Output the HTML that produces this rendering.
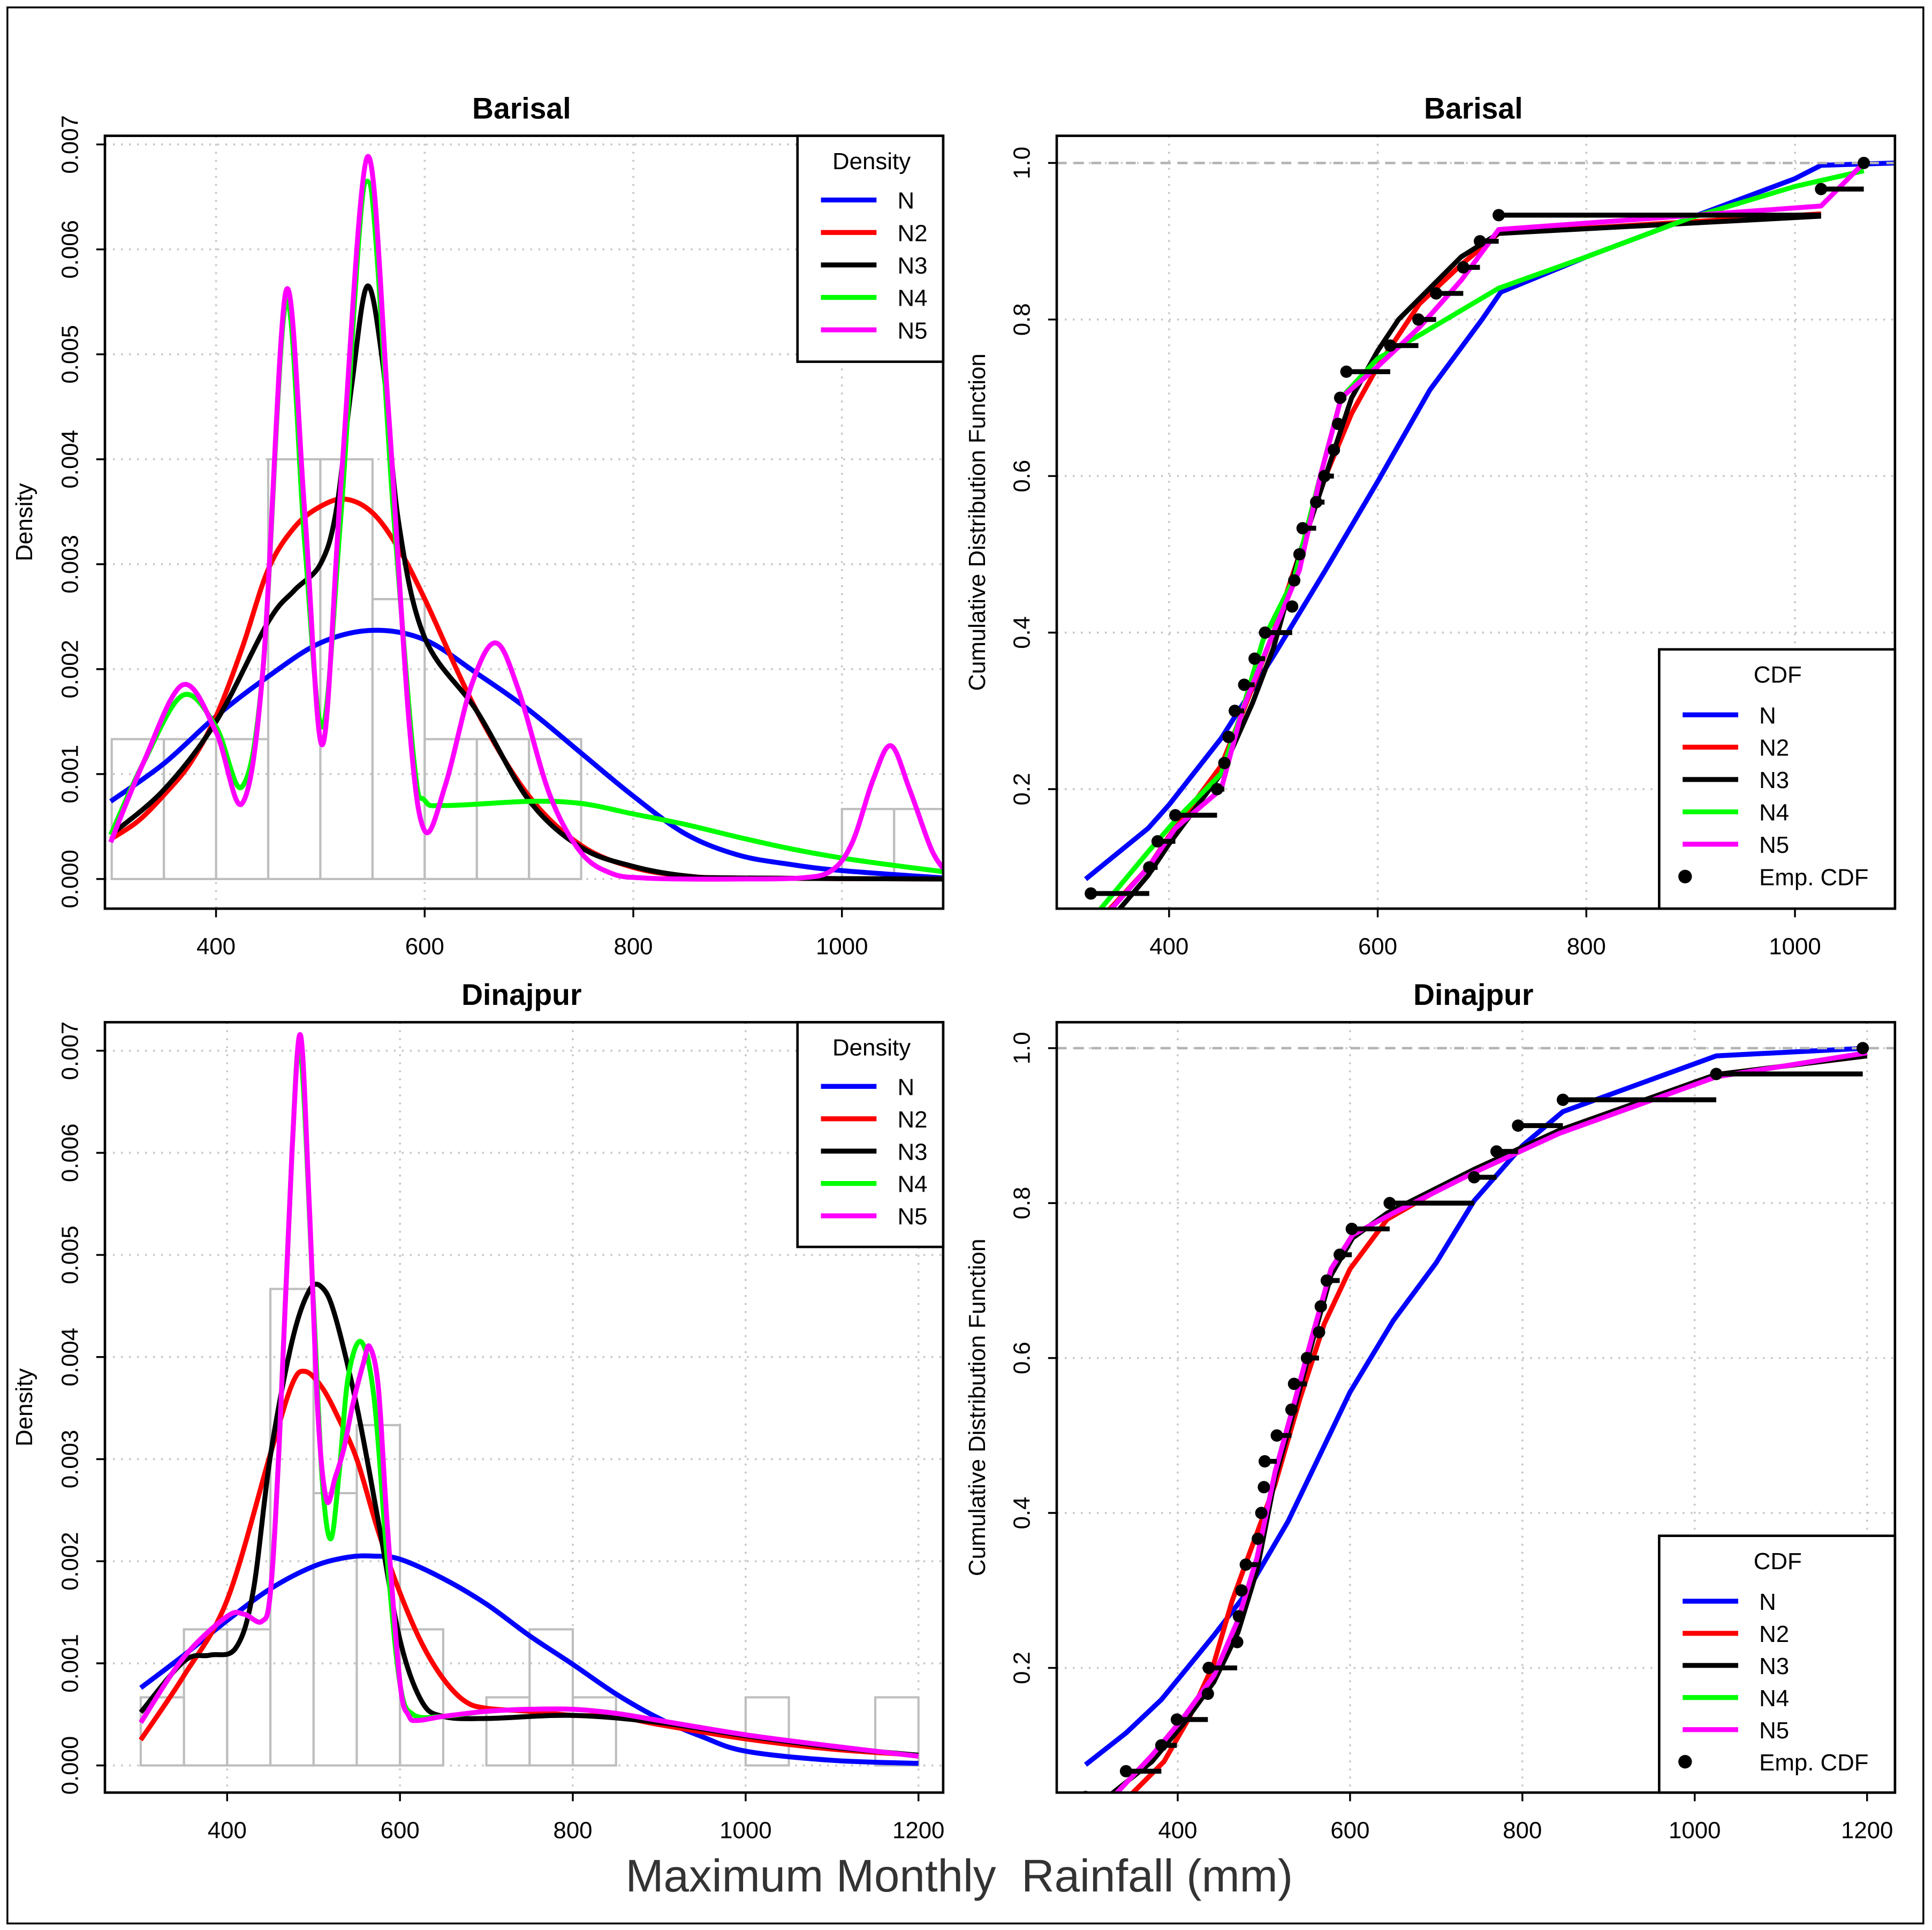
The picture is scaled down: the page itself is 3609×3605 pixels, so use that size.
<!DOCTYPE html>
<html><head><meta charset="utf-8"><style>
html,body{margin:0;padding:0;background:#fff;}
svg{display:block;font-family:"Liberation Sans",sans-serif;}
</style></head><body>
<svg id="fig" width="3609" height="3605" viewBox="0 0 1565 1563.3" preserveAspectRatio="none" xmlns="http://www.w3.org/2000/svg">
<rect x="0" y="0" width="1565" height="1564" fill="#fff"/>
<rect x="6" y="6" width="1552" height="1552" fill="none" stroke="#000" stroke-width="1.5"/>
<text x="777" y="1532" font-size="37" fill="#333" text-anchor="middle">Maximum Monthly&#160; Rainfall (mm)</text>
</svg>
<script>
// ---------- Barisal density data ----------
const barHistBreaks=[300,350,400,450,500,550,600,650,700,750,800,850,900,950,1000,1050,1100];
const barHistDens=[1.333,1.333,1.333,4.0,4.0,2.667,1.333,1.333,1.333,0,0,0,0,0,0.667,0.667];
const barNx=[299,350,400,450,500,550,600,650,700,750,800,850,900,950,1000,1097];
const barNy=[0.74,1.1,1.55,1.93,2.25,2.37,2.28,1.96,1.61,1.2,0.79,0.43,0.23,0.14,0.08,0.01];
const barN2x=[299,325,350,375,400,425,450,475,500,524,550,575,600,650,700,750,800,850,900,1097];
const barN2y=[0.38,0.55,0.8,1.1,1.55,2.2,2.95,3.35,3.55,3.62,3.49,3.15,2.67,1.6,0.79,0.32,0.11,0.03,0.01,0];
const barN3x=[299,350,400,450,475,500,515,530,545,560,575,600,650,700,750,800,850,900,1097];
const barN3y=[0.42,0.85,1.5,2.45,2.75,3.0,3.5,4.7,5.65,4.9,3.4,2.3,1.6,0.75,0.3,0.12,0.03,0.01,0];
const barN4x=[299,330,368,400,425,445,467,485,502,520,545,570,590,600,620,700,750,800,850,900,950,1000,1050,1097];
const barN4y=[0.42,1.1,1.75,1.45,0.88,2.0,5.5,3.2,1.45,3.5,6.65,3.5,1.1,0.75,0.7,0.74,0.72,0.62,0.52,0.4,0.29,0.2,0.13,0.07];
const barN5x=[299,330,368,400,425,445,467,485,502,520,545,565,585,600,620,645,668,690,720,750,780,810,850,900,960,990,1010,1030,1047,1065,1085,1097];
const barN5y=[0.35,1.1,1.85,1.4,0.72,2.0,5.6,3.5,1.28,3.8,6.88,4.5,1.5,0.46,0.9,1.85,2.25,1.8,0.8,0.25,0.05,0.01,0,0,0.01,0.08,0.35,0.95,1.27,0.85,0.3,0.1];
// ---------- Dinajpur density data ----------
const dinHistBreaks=[300,350,400,450,500,550,600,650,700,750,800,850,900,950,1000,1050,1100,1150,1200];
const dinHistDens=[0.667,1.333,1.333,4.667,2.667,3.333,1.333,0,0.667,1.333,0.667,0,0,0,0.667,0,0,0.667];
const dinNx=[300,350,400,450,500,540,570,600,650,700,750,800,850,900,950,1000,1100,1200];
const dinNy=[0.76,1.08,1.42,1.73,1.95,2.04,2.05,2.02,1.83,1.58,1.27,0.99,0.7,0.46,0.28,0.14,0.05,0.02];
const dinN2x=[300,350,400,450,475,490,510,530,550,575,600,625,650,675,700,750,800,850,900,1000,1100,1200];
const dinN2y=[0.25,0.88,1.62,3.05,3.73,3.86,3.7,3.38,3.0,2.29,1.69,1.2,0.85,0.63,0.56,0.53,0.49,0.48,0.4,0.26,0.16,0.1];
const dinN3x=[300,350,380,410,430,450,475,495,510,525,550,575,600,625,650,700,800,900,1000,1100,1200];
const dinN3y=[0.52,1.02,1.08,1.15,1.7,3.03,4.15,4.65,4.68,4.4,3.52,2.39,1.23,0.63,0.48,0.46,0.49,0.42,0.29,0.18,0.1];
const dinN4x=[300,350,400,420,440,450,460,475,485,500,510,520,530,540,555,570,585,600,615,650,700,750,800,850,900,1000,1100,1200];
const dinN4y=[0.42,1.06,1.46,1.48,1.41,1.69,3.1,6.0,7.0,4.5,2.8,2.22,2.9,3.8,4.15,3.6,2.04,0.8,0.5,0.48,0.53,0.55,0.55,0.51,0.44,0.3,0.19,0.09];
const dinN5x=[300,350,400,420,440,450,460,475,485,495,505,515,525,535,545,558,565,575,585,600,610,620,650,700,750,800,850,900,1000,1100,1200];
const dinN5y=[0.42,1.06,1.46,1.48,1.41,1.69,3.1,6.0,7.15,5.5,3.45,2.6,2.82,3.1,3.52,3.95,4.1,3.7,2.39,0.81,0.49,0.44,0.48,0.53,0.55,0.55,0.51,0.44,0.3,0.19,0.09];
// ---------- Barisal CDF data ----------
const barEmp=[300,325,381,389,406,446,453,457,463,472,482,492,518,520,525,528,541,549,558,562,564,570,612,639,656,682,698,716,1025,1066];
const barCNx=[320,380,400,450,500,550,600,650,700,718,800,900,1000,1025,1097];
const barCNy=[0.085,0.15,0.18,0.265,0.37,0.48,0.593,0.71,0.8,0.835,0.88,0.93,0.98,0.997,1.0];
const barCN2x=[335,380,400,450,480,500,525,550,575,600,640,680,716,1025];
const barCN2y=[0.035,0.1,0.14,0.23,0.33,0.4,0.5,0.6,0.68,0.74,0.82,0.87,0.91,0.935];
const barCN3x=[345,380,400,450,480,500,525,550,575,600,620,650,680,716,1025];
const barCN3y=[0.035,0.09,0.13,0.22,0.31,0.38,0.5,0.6,0.7,0.76,0.8,0.84,0.88,0.91,0.932];
const barCN4x=[330,380,406,450,470,490,520,545,565,600,640,716,800,900,1000,1066];
const barCN4y=[0.04,0.12,0.16,0.22,0.3,0.39,0.47,0.6,0.7,0.75,0.78,0.84,0.88,0.93,0.97,0.99];
const barCN5x=[340,380,406,450,470,500,525,545,565,600,640,680,716,1025,1066];
const barCN5y=[0.04,0.1,0.15,0.2,0.3,0.4,0.48,0.6,0.7,0.74,0.79,0.85,0.915,0.945,1.0];
// ---------- Dinajpur CDF data ----------
const dinEmp=[293,340,381,399,435,436,469,471,474,479,493,497,500,501,515,532,535,550,564,566,573,588,602,646,744,770,795,847,1025,1195];
const dinCNx=[293,340,381,442,478,528,600,650,700,744,800,847,1025,1200];
const dinCNy=[0.075,0.116,0.159,0.242,0.294,0.389,0.556,0.648,0.723,0.803,0.874,0.918,0.99,1.0];
const dinCN2x=[340,384,413,442,463,484,513,542,570,600,643,743,843,1025,1200];
const dinCN2y=[0.03,0.079,0.135,0.206,0.286,0.35,0.437,0.548,0.644,0.715,0.779,0.843,0.894,0.966,0.99];
const dinCN3x=[315,370,406,442,470,492,513,535,556,578,603,643,743,843,1025,1200];
const dinCN3y=[0.03,0.079,0.127,0.182,0.246,0.326,0.445,0.532,0.62,0.707,0.755,0.787,0.843,0.894,0.966,0.99];
const dinCN4x=[322,370,406,442,470,492,513,535,556,578,603,650,743,843,1025,1200];
const dinCN4y=[0.03,0.087,0.135,0.19,0.262,0.342,0.453,0.541,0.628,0.715,0.759,0.787,0.839,0.89,0.963,0.994];
const dinCN5x=[322,370,406,442,470,492,513,535,556,578,603,650,743,843,1025,1200];
const dinCN5y=[0.03,0.087,0.135,0.19,0.262,0.342,0.453,0.541,0.628,0.715,0.759,0.787,0.839,0.89,0.963,0.994];

const NS="http://www.w3.org/2000/svg";
const svg=document.getElementById('fig');
function mk(tag,attrs,parent){const e=document.createElementNS(NS,tag);for(const k in attrs)e.setAttribute(k,attrs[k]);(parent||svg).appendChild(e);return e;}
const COLORS={N:'#0000ff',N2:'#ff0000',N3:'#000000',N4:'#00ff00',N5:'#ff00ff'};

function smoothPath(xs,ys,X,Y){
  const p=xs.map((v,i)=>[X(v),Y(ys[i])]);
  let d='M'+p[0][0].toFixed(2)+','+p[0][1].toFixed(2);
  for(let i=0;i<p.length-1;i++){
    const p0=p[Math.max(0,i-1)],p1=p[i],p2=p[i+1],p3=p[Math.min(p.length-1,i+2)];
    const c1=[p1[0]+(p2[0]-p0[0])/6,p1[1]+(p2[1]-p0[1])/6];
    const c2=[p2[0]-(p3[0]-p1[0])/6,p2[1]-(p3[1]-p1[1])/6];
    d+=' C'+c1[0].toFixed(2)+','+c1[1].toFixed(2)+' '+c2[0].toFixed(2)+','+c2[1].toFixed(2)+' '+p2[0].toFixed(2)+','+p2[1].toFixed(2);
  }
  return d;
}
function linePath(xs,ys,X,Y){return xs.map((v,i)=>(i?'L':'M')+X(v).toFixed(2)+','+Y(ys[i]).toFixed(2)).join(' ');}

function panel(cfg){
  const g=mk('g',{});
  
  
  const b=cfg.box;
  const cid='clip-'+cfg.name;
  const cp=mk('clipPath',{id:cid},g);mk('rect',{x:b.x,y:b.y,width:b.w,height:b.h},cp);
  const grid=mk('g',{stroke:'#c8c8c8','stroke-width':1.6,'stroke-dasharray':'1.5,5'},g);
  
  
  cfg.xticks.forEach(v=>mk('line',{x1:cfg.X(v),x2:cfg.X(v),y1:b.y,y2:b.y+b.h},grid));
  cfg.yticks.forEach(v=>mk('line',{x1:b.x,x2:b.x+b.w,y1:cfg.Y(v),y2:cfg.Y(v)},grid));
  const plot=mk('g',{'clip-path':'url(#'+cid+')'},g);
  cfg.draw(plot);
  const box=mk('rect',{x:b.x,y:b.y,width:b.w,height:b.h,fill:'none',stroke:'#000','stroke-width':2},g);
  
  
  cfg.xticks.forEach(v=>{
    mk('line',{x1:cfg.X(v),x2:cfg.X(v),y1:b.y+b.h,y2:b.y+b.h+7,stroke:'#000','stroke-width':1.5},g);
    const t=mk('text',{x:cfg.X(v),y:b.y+b.h+37,'font-size':19,'text-anchor':'middle'},g);
    
    
    t.textContent=String(v);
  });
  cfg.yticks.forEach((v,i)=>{
    const y=cfg.Y(v);
    mk('line',{x1:b.x-7,x2:b.x,y1:y,y2:y,stroke:'#000','stroke-width':1.5},g);
    const t=mk('text',{x:0,y:0,'font-size':19,'text-anchor':'middle',transform:'translate('+(b.x-22)+','+y+') rotate(-90)'},g);
    
    
    t.textContent=cfg.ylabels[i];
  });
  const tt=mk('text',{x:b.x+b.w/2-2,y:b.y-14,'font-size':24,'font-weight':'bold','text-anchor':'middle'},g);
  
  
  tt.textContent=cfg.title;
  const yl=mk('text',{x:0,y:0,'font-size':19,'text-anchor':'middle',transform:'translate('+cfg.ylabX+','+(b.y+b.h/2)+') rotate(-90)'},g);
  
  
  yl.textContent=cfg.ylab;
  const L=cfg.legend;
  const lg=mk('g',{},g);
  
  
  mk('rect',{x:L.x,y:L.y,width:L.w,height:L.h,fill:'#fff',stroke:'#000','stroke-width':2},lg);
  const lt=mk('text',{x:L.tx,y:L.y+27,'font-size':19,'text-anchor':'middle'},lg);
  lt.textContent=L.title;
  L.items.forEach((it,i)=>{
    const y=L.y0+i*L.dy;
    const e=mk('g',{},lg);
    
    
    if(it==='Emp. CDF'){mk('circle',{cx:L.lx+2,cy:y,r:5.5,fill:'#000'},e);}
    else mk('line',{x1:L.lx,x2:L.lx+45,y1:y,y2:y,stroke:COLORS[it],'stroke-width':4},e);
    const t=mk('text',{x:L.lx+62,y:y+7,'font-size':19},e);
    t.textContent=it;
  });
}

function drawHist(plot,breaks,dens,X,Y){
  const hg=mk('g',{fill:'none',stroke:'#bebebe','stroke-width':1.8},plot);
  
  
  dens.forEach((d,i)=>{
    const r=mk('rect',{x:X(breaks[i]),y:Y(d),width:X(breaks[i+1])-X(breaks[i]),height:Y(0)-Y(d)},hg);
    
    
  });
}
function drawCurve(plot,xs,ys,X,Y,key,smooth){
  const p=mk('path',{d:smooth?smoothPath(xs,ys,X,Y):linePath(xs,ys,X,Y),fill:'none',stroke:COLORS[key],'stroke-width':4,'stroke-linejoin':'round'},plot);
  
  
}
function drawEmp(plot,emp,X,Y,b){
  const n=emp.length;
  mk('line',{x1:b.x,x2:b.x+b.w,y1:Y(1),y2:Y(1),stroke:'#b4b4b4','stroke-width':2,'stroke-dasharray':'8,6'},plot);
  const eg=mk('g',{},plot);
  
  
  emp.forEach((v,i)=>{
    const p=(i+1)/n;
    if(i<n-1) mk('line',{x1:X(v),x2:X(emp[i+1]),y1:Y(p),y2:Y(p),stroke:'#000','stroke-width':4},eg);
    const c=mk('circle',{cx:X(v),cy:Y(p),r:5,fill:'#000'},eg);
    
    
  });
}
const keys=['N','N2','N3','N4','N5'];

(function(){
  const X=v=>175+(v-400)*0.845, Y=d=>712-d*85;
  panel({name:'barisal-density',box:{x:85,y:110,w:679,h:626},X,Y,xticks:[400,600,800,1000],
    yticks:[0,1,2,3,4,5,6,7],ylabels:['0.000','0.001','0.002','0.003','0.004','0.005','0.006','0.007'],
    title:'Barisal',ylab:'Density',ylabX:26,
    legend:{x:646,y:110,w:118,h:183,tx:706,title:'Density',y0:162,dy:26.3,lx:665,items:keys},
    draw:pl=>{drawHist(pl,barHistBreaks,barHistDens,X,Y);
      [[barNx,barNy],[barN2x,barN2y],[barN3x,barN3y],[barN4x,barN4y],[barN5x,barN5y]].forEach((s,i)=>drawCurve(pl,s[0],s[1],X,Y,keys[i],true));}});
})();
(function(){
  const X=v=>947+(v-400)*0.845, Y=p=>132+(1-p)*634, b={x:856,y:110,w:679,h:626};
  panel({name:'barisal-cdf',box:b,X,Y,xticks:[400,600,800,1000],
    yticks:[0.2,0.4,0.6,0.8,1.0],ylabels:['0.2','0.4','0.6','0.8','1.0'],
    title:'Barisal',ylab:'Cumulative Distribution Function',ylabX:798,
    legend:{x:1344,y:526,w:191,h:210,tx:1440,title:'CDF',y0:579,dy:26.2,lx:1363,items:keys.concat(['Emp. CDF'])},
    draw:pl=>{
      [[barCNx,barCNy],[barCN2x,barCN2y],[barCN3x,barCN3y],[barCN4x,barCN4y],[barCN5x,barCN5y]].forEach((s,i)=>drawCurve(pl,s[0],s[1],X,Y,keys[i],false));
      drawEmp(pl,barEmp,X,Y,b);}});
})();
(function(){
  const X=v=>184+(v-400)*0.7, Y=d=>1430-d*82.7;
  panel({name:'dinajpur-density',box:{x:85,y:828,w:679,h:624},X,Y,xticks:[400,600,800,1000,1200],
    yticks:[0,1,2,3,4,5,6,7],ylabels:['0.000','0.001','0.002','0.003','0.004','0.005','0.006','0.007'],
    title:'Dinajpur',ylab:'Density',ylabX:26,
    legend:{x:646,y:828,w:118,h:182,tx:706,title:'Density',y0:880,dy:26.2,lx:665,items:keys},
    draw:pl=>{drawHist(pl,dinHistBreaks,dinHistDens,X,Y);
      [[dinNx,dinNy],[dinN2x,dinN2y],[dinN3x,dinN3y],[dinN4x,dinN4y],[dinN5x,dinN5y]].forEach((s,i)=>drawCurve(pl,s[0],s[1],X,Y,keys[i],true));}});
})();
(function(){
  const X=v=>954+(v-400)*0.698, Y=p=>849+(1-p)*627.5, b={x:856,y:828,w:679,h:624};
  panel({name:'dinajpur-cdf',box:b,X,Y,xticks:[400,600,800,1000,1200],
    yticks:[0.2,0.4,0.6,0.8,1.0],ylabels:['0.2','0.4','0.6','0.8','1.0'],
    title:'Dinajpur',ylab:'Cumulative Distribution Function',ylabX:798,
    legend:{x:1344,y:1244,w:191,h:208,tx:1440,title:'CDF',y0:1297,dy:26,lx:1363,items:keys.concat(['Emp. CDF'])},
    draw:pl=>{
      [[dinCNx,dinCNy],[dinCN2x,dinCN2y],[dinCN3x,dinCN3y],[dinCN4x,dinCN4y],[dinCN5x,dinCN5y]].forEach((s,i)=>drawCurve(pl,s[0],s[1],X,Y,keys[i],false));
      drawEmp(pl,dinEmp,X,Y,b);}});
})();
</script>
</body></html>
